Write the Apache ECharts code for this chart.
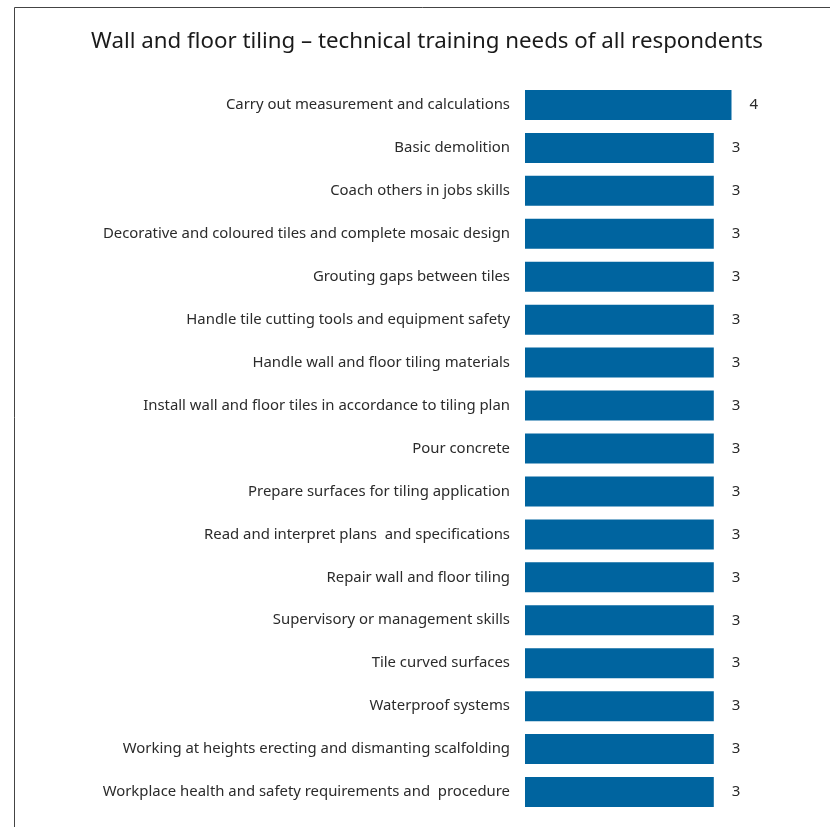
<!DOCTYPE html>
<html>
<head>
<meta charset="utf-8">
<style>
  html, body { margin: 0; padding: 0; background: #fff; }
  #chart { width: 830px; height: 827px; }
</style>
<script src="https://cdn.jsdelivr.net/npm/echarts@6/dist/echarts.min.js"></script>
</head>
<body>
<div id="chart"></div>
<script>
// Training needs, listed top to bottom
const categories = [
  'Carry out measurement and calculations',
  'Basic demolition',
  'Coach others in jobs skills',
  'Decorative and coloured tiles and complete mosaic design',
  'Grouting gaps between tiles',
  'Handle tile cutting tools and equipment safety',
  'Handle wall and floor tiling materials',
  'Install wall and floor tiles in accordance to tiling plan',
  'Pour concrete',
  'Prepare surfaces for tiling application',
  'Read and interpret plans  and specifications',
  'Repair wall and floor tiling',
  'Supervisory or management skills',
  'Tile curved surfaces',
  'Waterproof systems',
  'Working at heights erecting and dismanting scalfolding',
  'Workplace health and safety requirements and  procedure'
];

// Mean rating per need (labels show the rounded value)
const values = [3.5, 3.2, 3.2, 3.2, 3.2, 3.2, 3.2, 3.2, 3.2, 3.2, 3.2, 3.2, 3.2, 3.2, 3.2, 3.2, 3.2];

const titleText = 'Wall and floor tiling \u2013 technical training needs of all respondents';

const chart = echarts.init(document.getElementById('chart'), null, { renderer: 'canvas' });

chart.setOption({
  animation: false,
  backgroundColor: '#ffffff',
  title: {
    text: titleText,
    left: 422,
    textAlign: 'center',
    top: 26,
    textStyle: {
      fontFamily: 'Noto Sans',
      fontWeight: 'normal',
      fontSize: 22.3,
      color: '#1a1a1a'
    }
  },
  graphic: [
    {
      type: 'polyline',
      shape: { points: [[14.5, 827], [14.5, 7.5], [830, 7.5]] },
      style: { stroke: '#444', lineWidth: 1, fill: null }
    }
  ],
  grid: {
    left: 525,
    top: 83.5,
    width: 295,
    height: 730,
    containLabel: false
  },
  xAxis: {
    type: 'value',
    min: 0,
    max: 5,
    show: false
  },
  yAxis: {
    type: 'category',
    data: categories,
    inverse: true,
    axisLine: { show: false },
    axisTick: { show: false },
    axisLabel: {
      margin: 15,
      fontFamily: 'Noto Sans',
      fontSize: 14.9,
      color: '#2b2b2b',
      padding: [0, 0, 2, 0]
    }
  },
  series: [
    {
      type: 'bar',
      data: values,
      barWidth: 30,
      itemStyle: { color: '#00649f' },
      label: {
        show: true,
        position: 'right',
        distance: 18,
        fontFamily: 'Noto Sans',
        fontSize: 15,
        color: '#2b2b2b',
        formatter: p => Math.round(p.value).toString()
      }
    }
  ]
});
</script>
</body>
</html>
